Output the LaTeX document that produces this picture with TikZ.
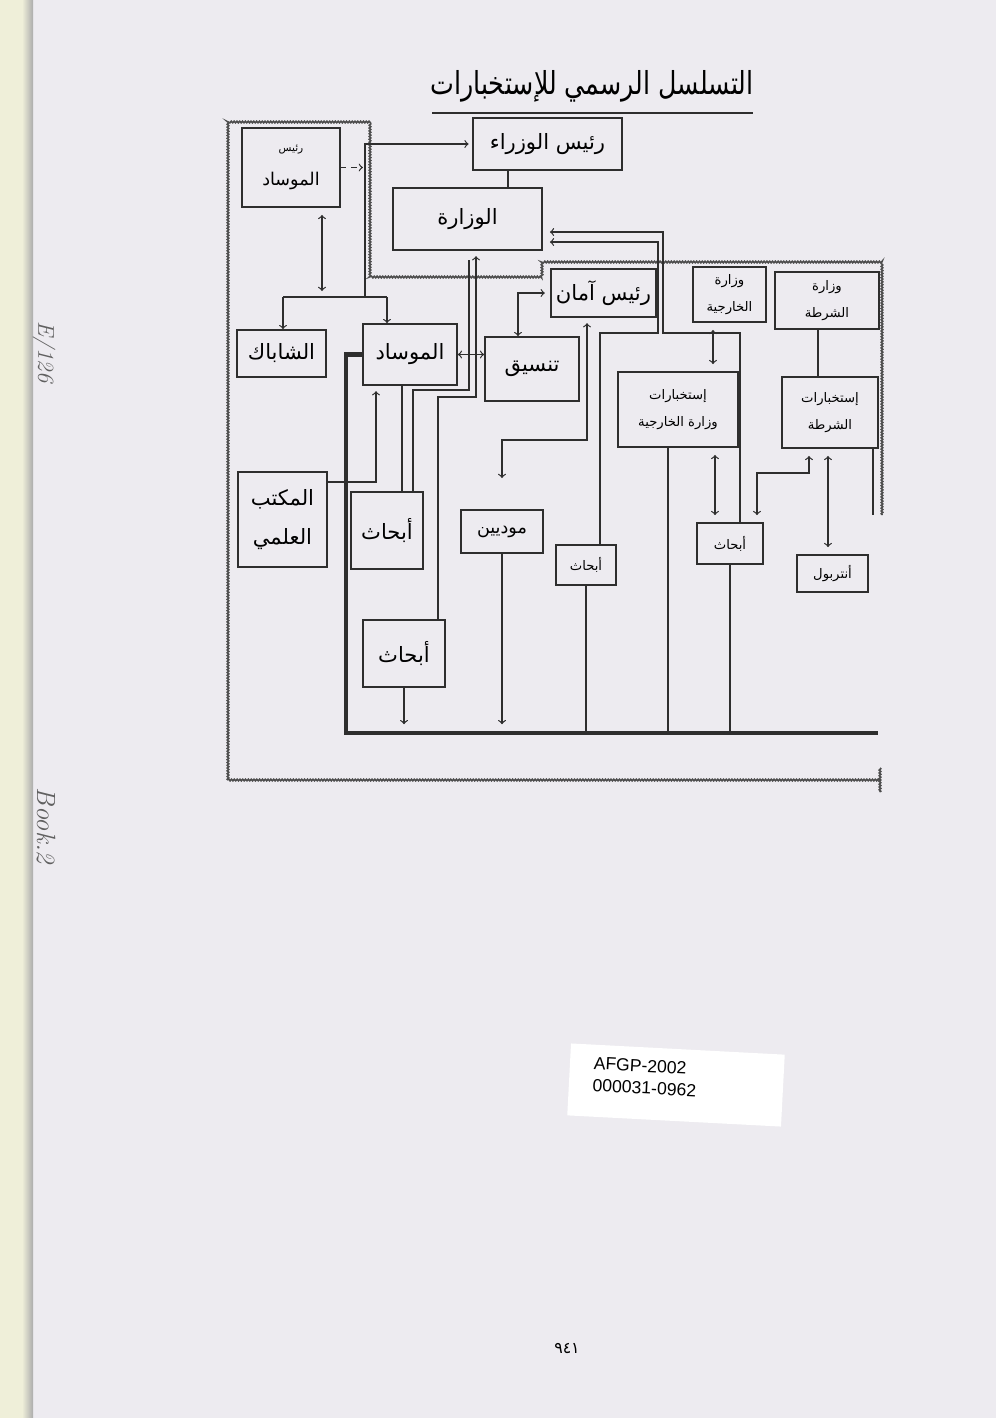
\documentclass[tikz,border=0pt]{standalone}
\usepackage{fontspec}
\newfontfamily\arabicfont[Script=Arabic]{DejaVu Sans}
\newfontfamily\tagfont{Liberation Sans}
\usepackage{xcolor}
\usepackage{graphicx}
\usepackage{tikz}
\usetikzlibrary{calc,positioning,decorations.pathmorphing}
\TeXXeTstate=1

\definecolor{paper}{HTML}{EDEBF0}
\definecolor{ink}{HTML}{2E2E2E}
\definecolor{binding}{HTML}{EFEFD9}

\newcommand{\ar}[1]{\beginR #1\endR}
\newcommand{\bigar}{\arabicfont\fontsize{12}{22}\selectfont}
\newcommand{\midar}{\arabicfont\fontsize{10}{19}\selectfont}
\newcommand{\smallar}{\arabicfont\fontsize{7.5}{15}\selectfont}

\tikzset{
	unit/.style={draw=ink, line width=1pt, align=center, inner sep=1pt, font=\bigar},
	boxwh/.style 2 args={minimum width=#1*0.02cm, minimum height=#2*0.02cm},
	link/.style={draw=ink, line width=0.7pt},
	crinkle/.style={draw=ink!85, line width=0.9pt, decorate, decoration={zigzag, amplitude=0.45pt, segment length=1.6pt}}
}

\begin{document}
\begin{tikzpicture}[x=0.02cm, y=-0.02cm]
			\useasboundingbox (0,0) rectangle (996,1418);
			\fill[paper] (0,0) rectangle (996,1418);
			\fill[binding] (0,0) rectangle (24,1418);
			\shade[left color=binding, right color=gray!65] (22,0) rectangle (33,1418);
			
			%%margin notes%%
			\node[rotate=-90, font=\itshape\fontsize{13}{13}\selectfont, text=gray!75!black] (fileno) at (44,352) {E/126};
			\node[rotate=-90, font=\itshape\fontsize{15}{15}\selectfont, text=gray!75!black] (bookno) at (46,826) {Book.2};
			
			%%title%%
			\node[font=\arabicfont\fontsize{18}{22}\selectfont, inner sep=0pt] (title) at (592,86) {\scalebox{0.8}[1]{\ar{التسلسل الرسمي للإستخبارات}}};
			\draw[ink, line width=1.6pt] (432,113) to (753,113);
			
			%%frames%%
			\draw[crinkle] (228,780) -- (228,122) -- (370,122) -- (370,277) -- (542,277) -- (542,262) -- (882,262) -- (882,515);
			\draw[crinkle] (228,780) to (880,780);
			\draw[crinkle] (880,768) to (880,792);
			
			%%top block%%
			\node[unit, boxwh={149}{52}] (pm) at (547.5,144) {\ar{رئيس الوزراء}};
			\node[unit, boxwh={149}{62}] (wiz) at (467.5,219) {\ar{الوزارة}};
			\node[unit, boxwh={98}{79}, font=\midar] (rmos) at (291,167.5) {{\arabicfont\fontsize{6}{10}\selectfont\ar{رئيس}}\\\ar{الموساد}};
			
			\coordinate (pw) at (508,0);
			\draw[link] (pw |- pm.south) to (pw |- wiz.north);
			\draw[link,->,dashed] (rmos.east) to ++(22,0);
			
			%%mossad%%
			\node[unit, boxwh={89}{47}] (shabak) at (281.5,353.5) {\ar{الشاباك}};
			\node[unit, boxwh={94}{61}] (mossad) at (410,354.5) {\ar{الموساد}};
			\node[unit, boxwh={94}{64}] (tansiq) at (532,369) {\ar{تنسيق}};
			\node[unit, boxwh={105}{48}] (aman) at (603.5,293) {\ar{رئيس آمان}};
			\node[unit, boxwh={89}{95}] (ilmi) at (282.5,519.5) {\ar{المكتب}\\\ar{العلمي}};
			\node[unit, boxwh={72}{77}] (abhath1) at (387,530.5) {\ar{أبحاث}};
			\node[unit, boxwh={82}{67}] (abhath2) at (404,653.5) {\ar{أبحاث}};
			\node[unit, boxwh={82}{43}, font=\midar] (mudiin) at (502,531.5) {\ar{موديين}};
			\node[unit, boxwh={60}{40}, font=\smallar] (abhath4) at (586,565) {\ar{أبحاث}};
			
			\coordinate (rm) at (322,291);
			\coordinate (brL) at (283,297);
			\coordinate (brR) at (387,297);
			\coordinate (brM) at (365,297);
			\draw[link,<->,shorten <=4pt] (rm |- rmos.south) to (rm);
			\draw[link] (brL) to (brR);
			\draw[link,->] (brL) to (brL |- shabak.north);
			\draw[link,->] (brR) to (brR |- mossad.north);
			\draw[link,->,shorten >=2pt] (brM) |- (pm.west);
			
			\draw[link,<->] (mossad.east) to (mossad.east -| tansiq.west);
			
			\coordinate (bA) at (438,397);
			\coordinate (bB) at (476,397);
			\draw[link,->,shorten >=3pt] (abhath2.north -| bA) -- (bA) -- (bB) -- (bB |- wiz.south);
			\coordinate (bC) at (413,390);
			\coordinate (bD) at (469,390);
			\draw[link,shorten >=5pt] (abhath1.north -| bC) -- (bC) -- (bD) -- (bD |- wiz.south);
			
			\coordinate (mA) at (402,0);
			\draw[link] (mA |- mossad.south) to (mA |- abhath1.north);
			\coordinate (mB) at (376,482);
			\draw[link,->,shorten >=3pt] (ilmi.east |- mB) -- (mB) -- (mB |- mossad.south);
			
			\coordinate (tq) at (518,293);
			\draw[link,<->,shorten >=3pt] (tansiq.north -| tq) -- (tq) -- (aman.west);
			\coordinate (am1) at (587,440);
			\coordinate (am2) at (502,440);
			\coordinate (am3) at (502,478);
			\draw[link,<->,shorten >=3pt] (am3) -- (am2) -- (am1) -- (am1 |- aman.south);
			
			%%thick line%%
			\coordinate (th1) at (346,733);
			\coordinate (thEnd) at (878,733);
			\draw[ink, line width=2.6pt] (mossad.west) -| (th1) -- (thEnd);
			\draw[link,->,shorten >=5pt] (abhath2.south) to (abhath2.south |- thEnd);
			\draw[link,->,shorten >=5pt] (mudiin.south) to (mudiin.south |- thEnd);
			\draw[link] (abhath4.south) to (abhath4.south |- thEnd);
			
			%%ministries%%
			\node[unit, boxwh={73}{55}, font=\smallar] (khar) at (729.5,294.5) {\ar{وزارة}\\\ar{الخارجية}};
			\node[unit, boxwh={104}{57}, font=\smallar] (shurta) at (827,300.5) {\ar{وزارة}\\\ar{الشرطة}};
			\node[unit, boxwh={120}{75}, font=\smallar] (ikhar) at (678,409.5) {\ar{إستخبارات}\\\ar{وزارة الخارجية}};
			\node[unit, boxwh={96}{71}, font=\smallar] (ishurta) at (830,412.5) {\ar{إستخبارات}\\\ar{الشرطة}};
			\node[unit, boxwh={66}{41}, font=\smallar] (abhath3) at (730,543.5) {\ar{أبحاث}};
			\node[unit, boxwh={71}{37}, font=\smallar] (interpol) at (832.5,573.5) {\ar{أنتربول}};
			
			\coordinate (r1) at (740,333);
			\coordinate (r2) at (663,333);
			\coordinate (r3) at (663,232);
			\draw[link,->,shorten >=4pt] (r1 |- abhath3.north) -- (r1) -- (r2) -- (r3) -- (wiz.east |- r3);
			\coordinate (r4) at (600,333);
			\coordinate (r5) at (658,333);
			\coordinate (r6) at (658,242);
			\draw[link,->,shorten >=4pt] (r4 |- abhath4.north) -- (r4) -- (r5) -- (r6) -- (wiz.east |- r6);
			
			\coordinate (g1) at (668,733);
			\draw[link] (g1 |- ikhar.south) to (g1);
			\draw[link] (abhath3.south) to (abhath3.south |- thEnd);
			\coordinate (g2) at (713,0);
			\draw[link,<->,shorten <=4pt,shorten >=4pt] (g2 |- khar.south) to (g2 |- ikhar.north);
			\coordinate (g3) at (715,0);
			\draw[link,<->,shorten <=4pt,shorten >=4pt] (g3 |- ikhar.south) to (g3 |- abhath3.north);
			\coordinate (g4) at (818,0);
			\draw[link] (g4 |- shurta.south) to (g4 |- ishurta.north);
			\coordinate (p1) at (809,473);
			\coordinate (p2) at (757,473);
			\draw[link,<->,shorten <=4pt,shorten >=4pt] (p1 |- ishurta.south) -- (p1) -- (p2) -- (p2 |- abhath3.north);
			\coordinate (g5) at (828,0);
			\draw[link,<->,shorten <=4pt,shorten >=4pt] (g5 |- ishurta.south) to (g5 |- interpol.north);
			\coordinate (g6) at (873,515);
			\draw[link] (g6 |- ishurta.south) to (g6);
			
			%%archive tag%%
			\fill[white, rotate around={-3:(676,1085)}] (569,1049) rectangle (783,1121);
			\node[rotate=-3, font=\tagfont\fontsize{10}{12.5}\selectfont, align=left, inner sep=0pt] (tagtext) at (645,1077) {AFGP-2002\\000031-0962};
			
			%%page number%%
			\node[font=\arabicfont\fontsize{9}{10}\selectfont] (pageno) at (567,1348) {٩٤١};
		\end{tikzpicture}
\end{document}
